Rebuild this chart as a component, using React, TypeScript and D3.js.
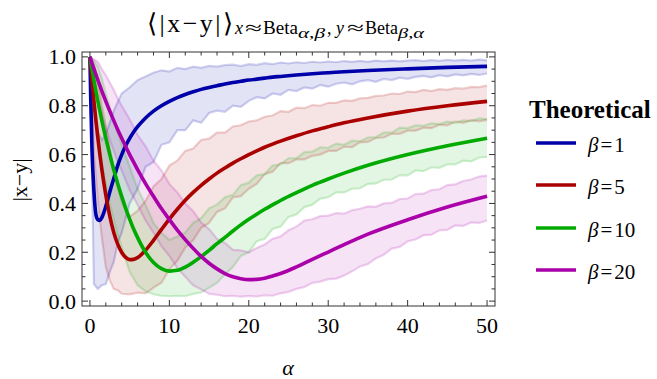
import React from "react";
import * as d3 from "d3";

const W = 657;
const H = 379;

// alpha grid for the theoretical curves
const curveAlpha = [0, 0.1, 0.25, 0.5, 0.75, 1, 1.25, 1.5, 2, 2.5, 3, 3.5, 4, 4.5, 5, 5.5, 6, 7, 8, 9, 10, 11, 12, 13, 14, 15, 16, 17, 18, 19, 20, 21, 22, 23, 24, 26, 28, 30, 32, 35, 40, 45, 50];

const theoBeta1 = [1, 0.83, 0.63, 0.452, 0.355, 0.333, 0.33, 0.342, 0.388, 0.447, 0.502, 0.556, 0.6, 0.636, 0.666, 0.692, 0.714, 0.75, 0.778, 0.8, 0.818, 0.833, 0.846, 0.857, 0.867, 0.875, 0.882, 0.889, 0.895, 0.9, 0.905, 0.909, 0.913, 0.917, 0.92, 0.926, 0.931, 0.935, 0.939, 0.944, 0.951, 0.957, 0.961];
const theoBeta5 = [1, 0.961, 0.905, 0.818, 0.739, 0.667, 0.6, 0.539, 0.434, 0.348, 0.281, 0.233, 0.199, 0.179, 0.17, 0.171, 0.178, 0.208, 0.249, 0.293, 0.336, 0.376, 0.413, 0.445, 0.474, 0.5, 0.524, 0.545, 0.565, 0.583, 0.6, 0.615, 0.63, 0.643, 0.655, 0.677, 0.697, 0.714, 0.73, 0.75, 0.778, 0.8, 0.818];
const theoBeta10 = [1, 0.98, 0.952, 0.905, 0.86, 0.818, 0.778, 0.739, 0.667, 0.6, 0.538, 0.481, 0.429, 0.38, 0.336, 0.295, 0.26, 0.2, 0.158, 0.133, 0.123, 0.126, 0.139, 0.159, 0.182, 0.208, 0.235, 0.261, 0.287, 0.312, 0.335, 0.356, 0.376, 0.394, 0.412, 0.444, 0.474, 0.5, 0.524, 0.556, 0.6, 0.636, 0.667];
const theoBeta20 = [1, 0.99, 0.975, 0.951, 0.928, 0.905, 0.882, 0.86, 0.818, 0.778, 0.739, 0.702, 0.667, 0.633, 0.6, 0.569, 0.538, 0.481, 0.429, 0.379, 0.334, 0.291, 0.252, 0.216, 0.183, 0.155, 0.132, 0.113, 0.1, 0.092, 0.088, 0.089, 0.094, 0.103, 0.113, 0.14, 0.171, 0.201, 0.231, 0.274, 0.333, 0.385, 0.429];

// simulated bands: [alpha, lower, upper]
const bandBeta1 = [[0,1,1],[0.5,0.07,0.85],[1,0.05,0.69],[1.5,0.065,0.66],[2,0.07,0.685],[2.5,0.12,0.73],[3,0.16,0.78],[3.5,0.24,0.815],[4,0.28,0.85],[5,0.4,0.875],[6,0.46,0.905],[7,0.55,0.92],[8,0.57,0.935],[9,0.64,0.945],[10,0.65,0.94],[11,0.7,0.955],[12,0.7,0.95],[13,0.74,0.96],[14,0.73,0.955],[15,0.77,0.963],[16,0.78,0.96],[17,0.775,0.966],[18,0.8,0.968],[19,0.795,0.962],[20,0.82,0.97],[21,0.835,0.967],[22,0.83,0.974],[23,0.85,0.97],[24,0.845,0.977],[25,0.865,0.973],[26,0.86,0.978],[27,0.875,0.975],[28,0.87,0.98],[29,0.885,0.977],[30,0.878,0.981],[31,0.89,0.978],[32,0.895,0.983],[33,0.888,0.98],[34,0.9,0.984],[35,0.905,0.98],[36,0.898,0.985],[37,0.91,0.982],[38,0.905,0.985],[39,0.915,0.982],[40,0.91,0.985],[41,0.918,0.987],[42,0.922,0.983],[43,0.916,0.987],[44,0.925,0.984],[45,0.92,0.988],[46,0.928,0.985],[47,0.924,0.988],[48,0.93,0.985],[49,0.926,0.989],[50,0.932,0.986]];
const bandBeta5 = [[0,1,1],[0.5,0.6,0.97],[1,0.41,0.9],[1.5,0.26,0.8],[2,0.14,0.715],[2.5,0.085,0.625],[3,0.05,0.545],[3.5,0.045,0.47],[4,0.03,0.41],[5,0.028,0.345],[6,0.035,0.37],[7,0.032,0.41],[8,0.055,0.47],[9,0.075,0.5],[10,0.13,0.555],[11,0.165,0.575],[12,0.22,0.615],[13,0.25,0.625],[14,0.3,0.66],[15,0.32,0.665],[16,0.365,0.69],[17,0.38,0.69],[18,0.425,0.715],[19,0.43,0.72],[20,0.46,0.735],[21,0.48,0.74],[22,0.52,0.755],[23,0.53,0.76],[24,0.565,0.778],[25,0.565,0.775],[26,0.58,0.792],[27,0.58,0.79],[28,0.595,0.803],[29,0.6,0.8],[30,0.615,0.812],[31,0.615,0.812],[32,0.632,0.822],[33,0.63,0.82],[34,0.65,0.83],[35,0.652,0.832],[36,0.668,0.84],[37,0.67,0.842],[38,0.685,0.85],[39,0.685,0.848],[40,0.698,0.858],[41,0.698,0.856],[42,0.71,0.865],[43,0.708,0.86],[44,0.722,0.868],[45,0.72,0.865],[46,0.735,0.872],[47,0.73,0.87],[48,0.74,0.877],[49,0.736,0.876],[50,0.742,0.882]];
const bandBeta10 = [[0,1,1],[0.5,0.79,0.985],[1,0.67,0.96],[1.5,0.565,0.91],[2,0.48,0.85],[2.5,0.4,0.795],[3,0.335,0.74],[3.5,0.27,0.69],[4,0.22,0.64],[5,0.12,0.55],[6,0.065,0.46],[7,0.04,0.395],[8,0.028,0.32],[9,0.022,0.28],[10,0.02,0.25],[11,0.022,0.265],[12,0.02,0.28],[13,0.03,0.32],[14,0.035,0.34],[15,0.055,0.38],[16,0.075,0.395],[17,0.11,0.425],[18,0.14,0.435],[19,0.185,0.475],[20,0.2,0.485],[21,0.245,0.515],[22,0.255,0.52],[23,0.295,0.555],[24,0.305,0.56],[25,0.345,0.585],[26,0.355,0.585],[27,0.385,0.61],[28,0.395,0.612],[29,0.42,0.63],[30,0.425,0.628],[31,0.445,0.645],[32,0.445,0.64],[33,0.46,0.657],[34,0.462,0.655],[35,0.48,0.67],[36,0.482,0.672],[37,0.497,0.69],[38,0.498,0.69],[39,0.515,0.71],[40,0.515,0.708],[41,0.535,0.72],[42,0.532,0.718],[43,0.548,0.728],[44,0.546,0.725],[45,0.56,0.735],[46,0.56,0.73],[47,0.575,0.74],[48,0.572,0.738],[49,0.588,0.748],[50,0.59,0.745]];
const bandBeta20 = [[0,1,1],[0.5,0.9,0.99],[1,0.82,0.98],[1.5,0.76,0.95],[2,0.71,0.925],[2.5,0.66,0.895],[3,0.615,0.865],[3.5,0.57,0.83],[4,0.535,0.8],[5,0.455,0.745],[6,0.395,0.68],[7,0.33,0.635],[8,0.28,0.575],[9,0.225,0.535],[10,0.185,0.48],[11,0.135,0.445],[12,0.1,0.4],[13,0.065,0.368],[14,0.048,0.322],[15,0.03,0.295],[16,0.026,0.255],[17,0.02,0.238],[18,0.022,0.21],[19,0.018,0.208],[20,0.021,0.2],[21,0.019,0.218],[22,0.024,0.232],[23,0.022,0.255],[24,0.032,0.265],[25,0.038,0.29],[26,0.05,0.305],[27,0.058,0.33],[28,0.075,0.335],[29,0.08,0.348],[30,0.09,0.35],[31,0.092,0.36],[32,0.105,0.358],[33,0.122,0.372],[34,0.142,0.378],[35,0.152,0.388],[36,0.175,0.386],[37,0.19,0.4],[38,0.215,0.402],[39,0.222,0.418],[40,0.245,0.42],[41,0.252,0.438],[42,0.27,0.44],[43,0.272,0.455],[44,0.29,0.458],[45,0.292,0.475],[46,0.31,0.478],[47,0.308,0.492],[48,0.322,0.498],[49,0.32,0.51],[50,0.33,0.514]];

const betaLabels = ["1", "5", "10", "20"];
const colors = ["#0000AA", "#AA0000", "#00AA00", "#AA00AA"];
const xMajor = [0, 10, 20, 30, 40, 50];
const yMajor = [0, 0.2, 0.4, 0.6, 0.8, 1.0];

const FONT = "'Liberation Serif', 'Times New Roman', serif";

export default function App() {
  const left = 82, right = 495, top = 52, bottom = 306;
  const x = d3.scaleLinear().domain([-1, 51]).range([left, right]);
  const y = d3.scaleLinear().domain([-0.02, 1.02]).range([bottom, top]);

  const theo = [theoBeta1, theoBeta5, theoBeta10, theoBeta20];
  const bands = [bandBeta1, bandBeta5, bandBeta10, bandBeta20];

  const line = d3
    .line<number>()
    .x((_, i) => x(curveAlpha[i]))
    .y((d) => y(d))
    .curve(d3.curveMonotoneX);

  const area = d3
    .area<number[]>()
    .x((d) => x(d[0]))
    .y0((d) => y(d[1]))
    .y1((d) => y(d[2]));
  const loLine = d3.line<number[]>().x((d) => x(d[0])).y((d) => y(d[1]));
  const hiLine = d3.line<number[]>().x((d) => x(d[0])).y((d) => y(d[2]));

  const xMinor = d3.range(0, 51, 2).filter((v) => v % 10 !== 0);
  const yMinor = d3.range(0, 1.0001, 0.05).filter((v) => Math.abs(v * 5 - Math.round(v * 5)) > 1e-6);

  const tickColor = "#333";
  const maj = 6, mnr = 3.5;

  const legendY = [143, 185, 228, 270];

  return (
    <svg width={W} height={H} style={{ position: "absolute", left: 0, top: 0, background: "#fff" }} fontFamily={FONT}>
      <defs>
        <clipPath id="plotclip">
          <rect x={left} y={top} width={right - left} height={bottom - top} />
        </clipPath>
      </defs>

      {/* Title */}
      <text x={147} y={32} fontSize={26} fill="#000" textLength={86} lengthAdjust="spacing">⟨|x−y|⟩</text>
      <text x={235} y={34} fontSize={18} fontStyle="italic">x</text>
      <text x={245} y={34} fontSize={18} textLength={17} lengthAdjust="spacingAndGlyphs">≈</text>
      <text x={263} y={34} fontSize={18} textLength={35} lengthAdjust="spacingAndGlyphs">Beta</text>
      <text x={298} y={38} fontSize={14} textLength={27} lengthAdjust="spacingAndGlyphs">
        <tspan fontStyle="italic">α</tspan>,<tspan fontStyle="italic">β</tspan>
      </text>
      <text x={327} y={34} fontSize={18}>,</text>
      <text x={336} y={34} fontSize={18} fontStyle="italic">y</text>
      <text x={347} y={34} fontSize={18} textLength={17} lengthAdjust="spacingAndGlyphs">≈</text>
      <text x={365} y={34} fontSize={18} textLength={33} lengthAdjust="spacingAndGlyphs">Beta</text>
      <text x={398} y={38} fontSize={14} textLength={26} lengthAdjust="spacingAndGlyphs">
        <tspan fontStyle="italic">β</tspan>,<tspan fontStyle="italic">α</tspan>
      </text>

      {/* Bands and curves */}
      <g clipPath="url(#plotclip)">
        {bands.map((b, i) => (
          <path key={"a" + i} d={area(b) || ""} fill={colors[i]} fillOpacity={0.11} stroke="none" />
        ))}
        {bands.map((b, i) => (
          <g key={"e" + i}>
            <path d={loLine(b) || ""} fill="none" stroke={colors[i]} strokeOpacity={0.18} strokeWidth={2.2} />
            <path d={hiLine(b) || ""} fill="none" stroke={colors[i]} strokeOpacity={0.18} strokeWidth={2.2} />
          </g>
        ))}
        {theo.map((t, i) => (
          <path key={"c" + i} d={line(t) || ""} fill="none" stroke={colors[i]} strokeWidth={3.6} strokeLinejoin="round" />
        ))}
      </g>

      {/* Frame */}
      <rect x={left} y={top} width={right - left} height={bottom - top} fill="none" stroke={tickColor} strokeWidth={1} />

      {/* X ticks */}
      {xMajor.map((v) => (
        <g key={"xm" + v}>
          <line x1={x(v)} x2={x(v)} y1={bottom} y2={bottom - maj} stroke={tickColor} />
          <line x1={x(v)} x2={x(v)} y1={top} y2={top + maj} stroke={tickColor} />
          <text x={x(v)} y={333} fontSize={22} textAnchor="middle">{v}</text>
        </g>
      ))}
      {xMinor.map((v) => (
        <g key={"xn" + v}>
          <line x1={x(v)} x2={x(v)} y1={bottom} y2={bottom - mnr} stroke={tickColor} />
          <line x1={x(v)} x2={x(v)} y1={top} y2={top + mnr} stroke={tickColor} />
        </g>
      ))}

      {/* Y ticks */}
      {yMajor.map((v) => (
        <g key={"ym" + v}>
          <line x1={left} x2={left + maj} y1={y(v)} y2={y(v)} stroke={tickColor} />
          <line x1={right} x2={right - maj} y1={y(v)} y2={y(v)} stroke={tickColor} />
          <text x={76} y={y(v) + 7.5} fontSize={22} textAnchor="end">{v.toFixed(1)}</text>
        </g>
      ))}
      {yMinor.map((v, i) => (
        <g key={"yn" + i}>
          <line x1={left} x2={left + mnr} y1={y(v)} y2={y(v)} stroke={tickColor} />
          <line x1={right} x2={right - mnr} y1={y(v)} y2={y(v)} stroke={tickColor} />
        </g>
      ))}

      {/* Axis labels */}
      <text x={288} y={375} fontSize={22} fontStyle="italic" textAnchor="middle">α</text>
      <text transform="translate(27,180) rotate(-90)" fontSize={22} textAnchor="middle">|x−y|</text>

      {/* Legend */}
      <text x={529} y={118} fontSize={25} fontWeight="bold">Theoretical</text>
      {betaLabels.map((b, i) => (
        <g key={"l" + i}>
          <line x1={536} x2={576} y1={legendY[i]} y2={legendY[i]} stroke={colors[i]} strokeWidth={3.6} />
          <text x={588} y={legendY[i] + 9} fontSize={21}>
            <tspan fontStyle="italic">β</tspan>
            <tspan dx={2}>=</tspan>
            <tspan dx={2}>{b}</tspan>
          </text>
        </g>
      ))}
    </svg>
  );
}
